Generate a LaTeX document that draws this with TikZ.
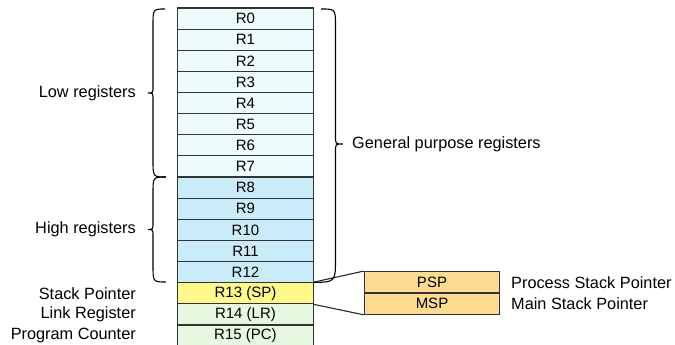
\documentclass[tikz,border=0pt]{standalone}
\usepackage{fontspec}
\setmainfont{Liberation Sans}
\begin{document}
\begin{tikzpicture}[x=1pt,y=-1pt,
  reg/.style={draw=black!80,line width=1.1pt,minimum width=135.5pt,minimum height=21.13pt,inner sep=0pt,
    font=\fontsize{15}{15}\selectfont},
  lowreg/.style={reg,fill=lowc},
  highreg/.style={reg,fill=highc},
  spreg/.style={reg,fill=spc},
  othreg/.style={reg,fill=othc},
  stk/.style={reg,fill=stkc,minimum width=135.5pt,minimum height=21.3pt},
  lbl/.style={font=\fontsize{16.3}{16.3}\selectfont,inner sep=0pt},
  brc/.style={draw=black,line width=1.1pt},
  conn/.style={draw=black!85,line width=1.1pt}]
\definecolor{lowc}{HTML}{EDFBFD}
\definecolor{highc}{HTML}{C9ECF8}
\definecolor{spc}{HTML}{FFF88A}
\definecolor{othc}{HTML}{E6F9E0}
\definecolor{stkc}{HTML}{FDDB92}
\useasboundingbox (0,0) rectangle (675,345);
% registers
\foreach \i in {0,...,7}{
  \node[lowreg] (r\i) at (245.5,{8+21.13*\i+10.565}) {R\i};
}
\foreach \i in {8,...,12}{
  \node[highreg] (r\i) at (245.5,{8+21.13*\i+10.565}) {R\i};
}
\node[spreg] (r13) at (245.5,{8+21.13*13+10.565}) {R13 (SP)};
\node[othreg] (r14) at (245.5,{8+21.13*14+10.565}) {R14 (LR)};
\node[othreg] (r15) at (245.5,{8+21.13*15+10.565}) {R15 (PC)};
% stack pointers
\node[stk] (psp) at (432,282.3) {PSP};
\node[stk] (msp) at (432,303.6) {MSP};
\draw[conn] (r13.north east) -- (psp.north west);
\draw[conn] (r13.south east) -- (msp.south west);
% left braces
\draw[brc] (165,9) .. controls (153,9) .. (153,26) -- (153,86)
  .. controls (153,93) .. (148,93) .. controls (153,93) .. (153,100)
  -- (153,160) .. controls (153,177) .. (166,177);
\draw[brc] (166,177) .. controls (153,177) .. (153,194) -- (153,222)
  .. controls (153,229.5) .. (148,229.5) .. controls (153,229.5) .. (153,237)
  -- (153,265) .. controls (153,282) .. (166,282);
% right brace
\draw[brc] (321,9) .. controls (335.5,9) .. (335.5,26) -- (335.5,137)
  .. controls (335.5,144) .. (343,144) .. controls (335.5,144) .. (335.5,151)
  -- (335.5,258) .. controls (335.5,282) .. (313.5,282.5);
% labels
\node[lbl,anchor=east] (low) at (136,93) {Low registers};
\node[lbl,anchor=east] (high) at (136,229.5) {High registers};
\node[lbl,anchor=west] (gpr) at (352,144) {General purpose registers};
\node[lbl,anchor=east] (spl) at (136,293.5) {Stack Pointer};
\node[lbl,anchor=east] (lrl) at (136,314) {Link Register};
\node[lbl,anchor=east] (pcl) at (136,335) {Program Counter};
\node[lbl,anchor=west] (pspl) at (511,283) {Process Stack Pointer};
\node[lbl,anchor=west] (mspl) at (511,303.5) {Main Stack Pointer};
\end{tikzpicture}
\end{document}
